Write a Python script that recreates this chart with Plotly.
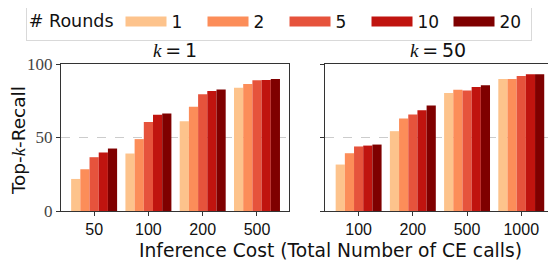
import plotly.graph_objects as go

# ---- data ----
rounds = ["1", "2", "5", "10", "20"]
colors = ["#fdc38c", "#fc8d59", "#e6533c", "#c0140f", "#7f0000"]

costs_k1 = ["50", "100", "200", "500"]
costs_k50 = ["100", "200", "500", "1000"]

k1_r1 = [21.8, 39.1, 61.1, 83.9]
k1_r2 = [28.4, 48.9, 70.9, 86.4]
k1_r5 = [36.6, 60.5, 79.5, 88.9]
k1_r10 = [39.8, 65.5, 81.6, 89.1]
k1_r20 = [42.5, 66.4, 82.7, 89.8]

k50_r1 = [31.6, 54.3, 80.2, 89.8]
k50_r2 = [39.3, 63.0, 82.5, 89.8]
k50_r5 = [43.9, 65.7, 82.0, 91.8]
k50_r10 = [44.5, 68.6, 84.3, 93.0]
k50_r20 = [45.2, 71.8, 85.5, 93.0]

y_ticks = [0, 50, 100]

series_k1 = [k1_r1, k1_r2, k1_r5, k1_r10, k1_r20]
series_k50 = [k50_r1, k50_r2, k50_r5, k50_r10, k50_r20]

fig = go.Figure()

for name, col, v1, v50 in zip(rounds, colors, series_k1, series_k50):
    fig.add_trace(go.Bar(x=costs_k1, y=v1, marker=dict(color=col, line=dict(width=0)),
                         xaxis="x", yaxis="y", showlegend=False, legendgroup=name))
    fig.add_trace(go.Bar(x=costs_k50, y=v50, marker=dict(color=col, line=dict(width=0)),
                         xaxis="x2", yaxis="y2", showlegend=False, legendgroup=name))
    fig.add_trace(go.Scatter(x=[None], y=[None], mode="lines", name=name,
                             line=dict(color=col, width=13), legendgroup=name,
                             xaxis="x", yaxis="y"))

SANS = "DejaVu Sans"
TICK_SANS = "Liberation Sans"
SERIF = "Liberation Serif"
axis_color = "#333333"

common_x = dict(type="category", showline=True, linecolor=axis_color, linewidth=1, mirror=True,
                ticks="outside", ticklen=4, tickcolor=axis_color, showgrid=False,
                tickfont=dict(family=TICK_SANS, size=16, color="#111"))
common_y = dict(range=[0, 100], tickvals=y_ticks, showline=True, linecolor=axis_color, linewidth=1,
                mirror=True, ticks="outside", ticklen=4, tickcolor=axis_color, showgrid=True,
                gridcolor="#cccccc", griddash="dash", gridwidth=1, zeroline=False,
                tickfont=dict(family=SERIF, size=17, color="#444"))

# the page body adds an 8px offset, so the figure is 8px smaller than the window
fig.update_layout(
    width=548, height=252,
    margin=dict(l=53, r=6, t=56, b=49, autoexpand=False),
    paper_bgcolor="white", plot_bgcolor="white",
    barmode="group", bargap=0.153, bargroupgap=0,
    xaxis=dict(domain=[0, 0.4663], range=[-0.61, 3.59], **common_x),
    xaxis2=dict(domain=[0.5399, 1], range=[-0.62, 3.53], anchor="y2", **common_x),
    yaxis=dict(anchor="x", **common_y),
    yaxis2=dict(anchor="x2", showticklabels=False, **common_y),
    legend=dict(orientation="h", x=-0.072, y=1.416, xanchor="left", yanchor="top",
                title=dict(text="# Rounds", font=dict(family=SANS, size=17.5, color="#111")),
                font=dict(family=SANS, size=17, color="#111"),
                bordercolor="#d9d9d9", borderwidth=1, bgcolor="white",
                itemwidth=41, entrywidth=26, entrywidthmode="pixels"),
    annotations=[
        dict(text="<span style='font-family:Liberation Serif'><i>k</i></span>\u2009=\u20091",
             x=0.2331, y=1.095, xref="paper", yref="paper", xanchor="center", yanchor="middle",
             showarrow=False, font=dict(family=SANS, size=19, color="#111")),
        dict(text="<span style='font-family:Liberation Serif'><i>k</i></span>\u2009=\u200950",
             x=0.770, y=1.095, xref="paper", yref="paper", xanchor="center", yanchor="middle",
             showarrow=False, font=dict(family=SANS, size=19, color="#111")),
        dict(text="Inference Cost (Total Number of CE calls)",
             x=0.552, y=-0.272, xref="paper", yref="paper", xanchor="center", yanchor="middle",
             showarrow=False, font=dict(family=SANS, size=18.7, color="#111")),
        dict(text="Top-<span style='font-family:Liberation Serif'><i>k</i></span>-Recall",
             x=-0.088, y=0.482, xref="paper", yref="paper", xanchor="center", yanchor="middle",
             textangle=-90, showarrow=False, font=dict(family=SANS, size=18.5, color="#111")),
    ],
)

fig.write_html("out.html")
